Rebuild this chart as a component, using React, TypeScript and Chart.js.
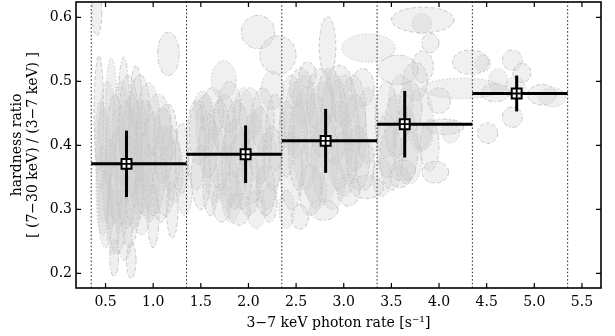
import React, { useEffect, useRef } from 'react';
import { Chart, registerables } from 'chart.js';

Chart.register(...registerables);

// ---- data ----
const xTicks = [0.5, 1.0, 1.5, 2.0, 2.5, 3.0, 3.5, 4.0, 4.5, 5.0, 5.5];
const yTicks = [0.2, 0.3, 0.4, 0.5, 0.6];

const binEdges = [0.35, 1.35, 2.35, 3.35, 4.35, 5.35];
const binRate = [0.72, 1.97, 2.81, 3.64, 4.815];
const binHardness = [0.371, 0.386, 0.407, 0.433, 0.481];
const binHardnessErr = [0.052, 0.045, 0.05, 0.052, 0.028];

// individual measurements: centre rate / hardness and their errors (ellipse half-axes)
const ellX = [
  0.43, 0.56, 0.69, 0.82, 0.95, 1.05, 1.15, 0.48, 0.60, 0.72, 0.85, 1.00, 1.12, 0.50, 0.62, 0.75, 0.88, 1.00, 1.20, 1.22,
  0.59, 0.77, 0.66, 0.78, 0.92, 0.55, 0.70, 1.08, 0.45, 0.90, 1.30, 1.33, 1.16, 0.41,
  0.52, 0.64, 0.80, 0.96, 1.10, 0.74, 0.58, 0.86, 1.18, 0.47,
  1.45, 1.50, 1.55, 1.62, 1.70, 1.74, 1.80, 1.85, 1.95, 2.05, 2.15, 2.20, 1.72, 1.90, 2.08, 1.60, 2.28, 2.25, 2.10, 2.31,
  1.52, 1.88, 2.00, 1.78, 2.22,
  1.48, 1.65, 1.75, 1.92, 2.02, 2.12, 2.25, 1.82, 1.58, 2.18,
  2.45, 2.45, 2.55, 2.60, 2.65, 2.75, 2.80, 2.90, 2.95, 3.00, 3.10, 3.15, 3.25, 3.20, 2.83, 3.26, 2.79, 2.54, 2.40, 3.05,
  3.24, 2.70, 3.05, 2.52, 2.88, 2.40, 2.62,
  2.50, 2.68, 2.78, 2.95, 3.12, 3.22, 2.58, 2.85, 3.00, 2.72,
  3.45, 3.50, 3.60, 3.65, 3.75, 3.80, 3.62, 3.96, 4.12, 4.06, 3.83, 3.82, 3.57, 4.33, 4.25, 3.91, 3.83, 3.40, 3.90, 4.00,
  3.83, 3.59, 3.55, 3.70, 3.70, 3.45,
  4.46, 4.77, 4.87, 4.80, 4.59, 5.08, 5.19, 4.77, 4.51, 4.62,
];
const ellY = [
  0.45, 0.45, 0.45, 0.44, 0.44, 0.43, 0.42, 0.37, 0.38, 0.37, 0.38, 0.37, 0.36, 0.30, 0.30, 0.31, 0.31, 0.29, 0.30, 0.36,
  0.225, 0.22, 0.42, 0.40, 0.40, 0.34, 0.27, 0.33, 0.40, 0.35, 0.38, 0.33, 0.543, 0.607,
  0.42, 0.35, 0.34, 0.34, 0.40, 0.44, 0.28, 0.46, 0.38, 0.33,
  0.40, 0.35, 0.43, 0.45, 0.40, 0.502, 0.46, 0.37, 0.43, 0.38, 0.44, 0.36, 0.31, 0.30, 0.30, 0.34, 0.42, 0.486, 0.577, 0.541,
  0.46, 0.41, 0.34, 0.35, 0.31,
  0.42, 0.37, 0.43, 0.36, 0.45, 0.40, 0.38, 0.32, 0.40, 0.33,
  0.45, 0.36, 0.49, 0.41, 0.33, 0.47, 0.38, 0.44, 0.50, 0.37, 0.45, 0.38, 0.43, 0.49, 0.554, 0.552, 0.299, 0.288, 0.30, 0.33,
  0.335, 0.42, 0.41, 0.40, 0.34, 0.41, 0.51,
  0.44, 0.37, 0.44, 0.40, 0.42, 0.37, 0.47, 0.48, 0.47, 0.33,
  0.44, 0.38, 0.47, 0.40, 0.50, 0.44, 0.361, 0.358, 0.421, 0.429, 0.596, 0.59, 0.518, 0.53, 0.489, 0.56, 0.523, 0.35, 0.40, 0.47,
  0.413, 0.35, 0.43, 0.38, 0.46, 0.40,
  0.528, 0.533, 0.513, 0.491, 0.482, 0.479, 0.475, 0.444, 0.419, 0.50,
];
const ellRX = [
  0.05, 0.06, 0.06, 0.07, 0.12, 0.14, 0.10, 0.08, 0.10, 0.12, 0.12, 0.13, 0.12, 0.08, 0.10, 0.10, 0.10, 0.06, 0.06, 0.09,
  0.045, 0.05, 0.09, 0.10, 0.11, 0.08, 0.08, 0.09, 0.06, 0.09, 0.07, 0.08, 0.113, 0.05,
  0.09, 0.10, 0.10, 0.10, 0.10, 0.10, 0.07, 0.10, 0.10, 0.07,
  0.10, 0.10, 0.10, 0.12, 0.12, 0.13, 0.12, 0.13, 0.12, 0.12, 0.12, 0.12, 0.10, 0.12, 0.10, 0.08, 0.10, 0.12, 0.175, 0.19,
  0.09, 0.13, 0.12, 0.10, 0.08,
  0.10, 0.12, 0.12, 0.12, 0.12, 0.12, 0.10, 0.10, 0.10, 0.10,
  0.12, 0.12, 0.12, 0.14, 0.12, 0.14, 0.14, 0.14, 0.13, 0.13, 0.13, 0.12, 0.12, 0.12, 0.087, 0.28, 0.15, 0.09, 0.08, 0.12,
  0.18, 0.12, 0.12, 0.10, 0.13, 0.08, 0.09,
  0.12, 0.12, 0.14, 0.14, 0.12, 0.10, 0.12, 0.12, 0.13, 0.10,
  0.12, 0.12, 0.13, 0.13, 0.13, 0.14, 0.13, 0.14, 0.095, 0.20, 0.33, 0.10, 0.21, 0.19, 0.42, 0.09, 0.11, 0.10, 0.10, 0.12,
  0.10, 0.11, 0.12, 0.12, 0.12, 0.10,
  0.08, 0.105, 0.095, 0.105, 0.15, 0.15, 0.14, 0.105, 0.105, 0.10,
];
const ellRY = [
  0.09, 0.087, 0.088, 0.085, 0.058, 0.05, 0.045, 0.09, 0.10, 0.10, 0.09, 0.08, 0.07, 0.06, 0.07, 0.07, 0.05, 0.05, 0.045, 0.05,
  0.03, 0.028, 0.08, 0.08, 0.07, 0.07, 0.05, 0.05, 0.07, 0.06, 0.055, 0.04, 0.034, 0.035,
  0.08, 0.08, 0.07, 0.06, 0.06, 0.07, 0.05, 0.05, 0.05, 0.07,
  0.07, 0.05, 0.05, 0.04, 0.07, 0.03, 0.04, 0.07, 0.06, 0.07, 0.05, 0.06, 0.03, 0.025, 0.03, 0.05, 0.06, 0.03, 0.026, 0.03,
  0.025, 0.06, 0.05, 0.05, 0.03,
  0.05, 0.06, 0.05, 0.06, 0.04, 0.06, 0.05, 0.04, 0.05, 0.04,
  0.06, 0.06, 0.03, 0.08, 0.04, 0.05, 0.07, 0.07, 0.025, 0.05, 0.06, 0.05, 0.06, 0.03, 0.047, 0.022, 0.016, 0.019, 0.03, 0.025,
  0.018, 0.06, 0.07, 0.07, 0.04, 0.06, 0.02,
  0.06, 0.06, 0.06, 0.07, 0.06, 0.04, 0.04, 0.04, 0.04, 0.03,
  0.06, 0.05, 0.04, 0.06, 0.03, 0.05, 0.016, 0.017, 0.017, 0.012, 0.02, 0.016, 0.023, 0.019, 0.016, 0.015, 0.025, 0.03, 0.04, 0.02,
  0.02, 0.016, 0.05, 0.04, 0.04, 0.05,
  0.013, 0.016, 0.015, 0.016, 0.014, 0.016, 0.015, 0.016, 0.016, 0.02,
];

const X_MIN = 0.19;
const X_MAX = 5.7;
const Y_MIN = 0.177;
const Y_MAX = 0.624;

const FONT = 'DejaVu Serif';

const ellipsePlugin = {
  id: 'ellipses',
  beforeDatasetsDraw(chart: any) {
    const { ctx, chartArea: a, scales } = chart;
    const x = scales.x;
    const y = scales.y;
    const dashes = [[4, 2.5], [1.5, 2], [5, 2, 1.5, 2]];
    ctx.save();
    ctx.beginPath();
    ctx.rect(a.left, a.top, a.right - a.left, a.bottom - a.top);
    ctx.clip();
    for (let i = 0; i < ellX.length; i++) {
      const cx = x.getPixelForValue(ellX[i]);
      const cy = y.getPixelForValue(ellY[i]);
      const rx = Math.abs(x.getPixelForValue(ellX[i] + ellRX[i]) - cx);
      const ry = Math.abs(y.getPixelForValue(ellY[i] + ellRY[i]) - cy);
      ctx.beginPath();
      ctx.ellipse(cx, cy, rx, ry, 0, 0, Math.PI * 2);
      ctx.fillStyle = 'rgba(200,200,200,0.28)';
      ctx.fill();
      ctx.setLineDash(dashes[i % 3]);
      ctx.strokeStyle = 'rgb(200,200,200)';
      ctx.lineWidth = 1;
      ctx.stroke();
    }
    ctx.restore();
  },
};

const framePlugin = {
  id: 'frame',
  afterDraw(chart: any) {
    const { ctx, chartArea: a, scales } = chart;
    const x = scales.x;
    const y = scales.y;
    ctx.save();
    ctx.strokeStyle = '#000';
    ctx.lineWidth = 1.2;
    ctx.beginPath();
    for (const v of xTicks) {
      const p = x.getPixelForValue(v);
      ctx.moveTo(p, a.bottom);
      ctx.lineTo(p, a.bottom - 5);
      ctx.moveTo(p, a.top);
      ctx.lineTo(p, a.top + 5);
    }
    for (const v of yTicks) {
      const p = y.getPixelForValue(v);
      ctx.moveTo(a.left, p);
      ctx.lineTo(a.left + 5, p);
      ctx.moveTo(a.right, p);
      ctx.lineTo(a.right - 5, p);
    }
    ctx.stroke();
    ctx.lineWidth = 1.6;
    ctx.strokeRect(a.left, a.top, a.right - a.left, a.bottom - a.top);
    ctx.restore();
  },
};

export default function App() {
  const ref = useRef<HTMLCanvasElement>(null);

  useEffect(() => {
    if (!ref.current) return;
    const datasets: any[] = [];

    binEdges.forEach((e) => {
      datasets.push({
        type: 'scatter',
        data: [{ x: e, y: Y_MIN }, { x: e, y: Y_MAX }],
        showLine: true,
        borderColor: '#222',
        borderWidth: 1,
        borderDash: [1.5, 2.2],
        pointRadius: 0,
        order: 5,
      });
    });

    binRate.forEach((r, i) => {
      datasets.push({
        type: 'scatter',
        data: [{ x: binEdges[i], y: binHardness[i] }, { x: binEdges[i + 1], y: binHardness[i] }],
        showLine: true,
        borderColor: '#000',
        borderWidth: 3,
        pointRadius: 0,
        order: 4,
      });
      datasets.push({
        type: 'scatter',
        data: [
          { x: r, y: binHardness[i] - binHardnessErr[i] },
          { x: r, y: binHardness[i] + binHardnessErr[i] },
        ],
        showLine: true,
        borderColor: '#000',
        borderWidth: 3,
        pointRadius: 0,
        order: 3,
      });
    });

    datasets.push({
      type: 'scatter',
      data: binRate.map((r, i) => ({ x: r, y: binHardness[i] })),
      pointStyle: 'rect',
      pointRadius: 7,
      backgroundColor: '#fff',
      borderColor: '#000',
      borderWidth: 2,
      order: 2,
    });
    datasets.push({
      type: 'scatter',
      data: binRate.map((r, i) => ({ x: r, y: binHardness[i] })),
      pointStyle: 'cross',
      pointRadius: 4.5,
      borderColor: '#000',
      borderWidth: 1.8,
      order: 1,
    });

    const chart = new Chart(ref.current, {
      type: 'scatter',
      data: { datasets },
      options: {
        responsive: false,
        animation: false,
        events: [],
        layout: { autoPadding: false, padding: { top: 2, right: 14, left: 0, bottom: 0 } },
        plugins: { legend: { display: false }, tooltip: { enabled: false } },
        scales: {
          x: {
            type: 'linear',
            min: X_MIN,
            max: X_MAX,
            grid: { display: false, drawTicks: false },
            border: { display: false },
            afterBuildTicks: (s: any) => {
              s.ticks = xTicks.map((v) => ({ value: v }));
            },
            afterFit: (s: any) => {
              s.height = 48;
              s.paddingLeft = 0;
              s.paddingRight = 0;
            },
            ticks: {
              autoSkip: false,
              maxRotation: 0,
              padding: 6,
              color: '#000',
              font: { family: FONT, size: 14 },
              callback: (v: any) => Number(v).toFixed(1),
            },
            title: {
              display: true,
              text: '3\u22127 keV photon rate [s\u207B\u00B9]',
              color: '#000',
              font: { family: FONT, size: 14 },
              padding: { top: 0, bottom: 4 },
            },
          },
          y: {
            type: 'linear',
            min: Y_MIN,
            max: Y_MAX,
            grid: { display: false, drawTicks: false },
            border: { display: false },
            afterBuildTicks: (s: any) => {
              s.ticks = yTicks.map((v) => ({ value: v }));
            },
            afterFit: (s: any) => {
              s.width = 76;
              s.paddingTop = 0;
              s.paddingBottom = 0;
            },
            ticks: {
              autoSkip: false,
              padding: 4,
              color: '#000',
              font: { family: FONT, size: 14 },
              callback: (v: any) => Number(v).toFixed(1),
            },
            title: {
              display: true,
              text: ['hardness ratio', '[ (7\u221230 keV) / (3\u22127 keV) ]'],
              color: '#000',
              font: { family: FONT, size: 14, lineHeight: 1.15 },
              padding: { top: 9, bottom: 0 },
            },
          },
        },
      },
      plugins: [ellipsePlugin, framePlugin],
    } as any);

    return () => chart.destroy();
  }, []);

  return (
    <div style={{ position: 'absolute', left: 0, top: 0, width: 615, height: 336 }}>
      <canvas ref={ref} width={615} height={336} style={{ display: 'block' }} />
    </div>
  );
}
